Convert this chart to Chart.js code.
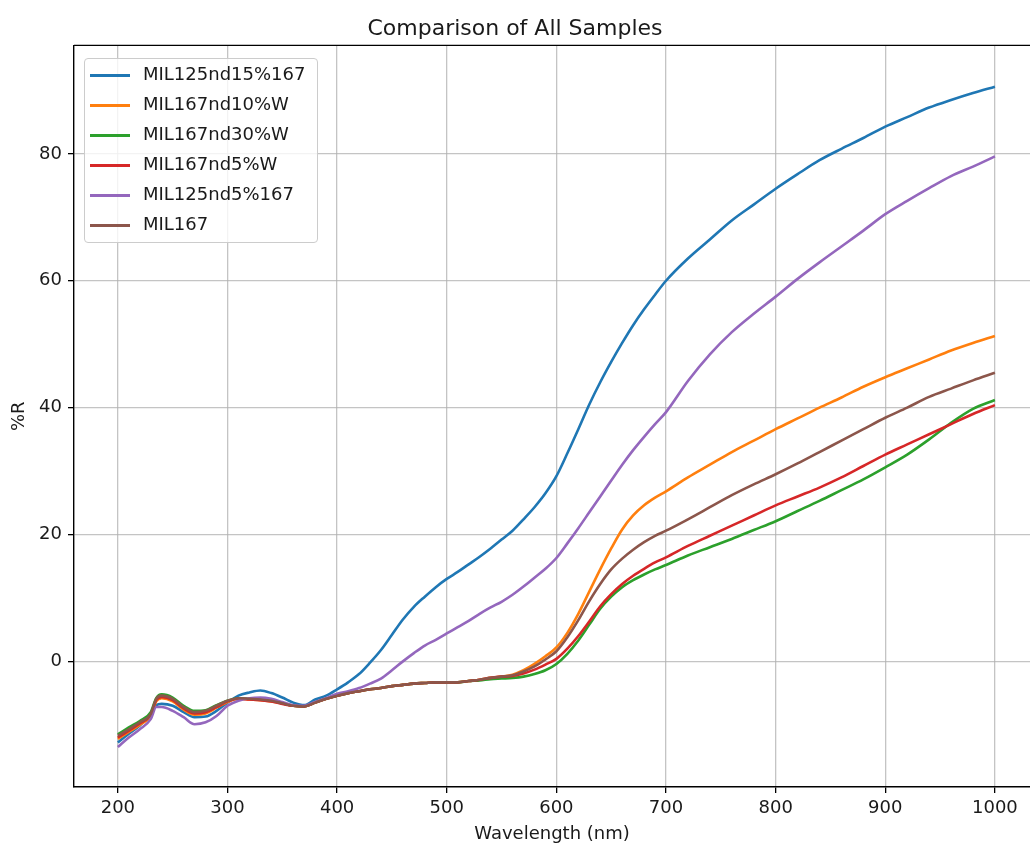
<!DOCTYPE html>
<html lang="en">
<head>
    <meta charset="UTF-8">
    <title>Comparison of All Samples</title>
    <style>
        body { margin: 0; background: #fff; font-family: "DejaVu Sans", sans-serif; }
        #wrap { position: relative; width: 1030px; height: 848px; }
        #legend {
            position: absolute; left: 84px; top: 58px;
            border: 1px solid #cccccc; border-radius: 4px;
            background: rgba(255,255,255,0.8);
            padding: 0 12px 3px 0; font-size: 18px; color: #1a1a1a;
        }
        #legend .row { height: 30px; line-height: 30px; white-space: nowrap; }
        #legend .swatch {
            display: inline-block; width: 40px; height: 3px;
            vertical-align: middle; margin: 0 13px 0 5px;
        }
    </style>
</head>
<body>
<div id="wrap">
    <canvas id="chart" width="1030" height="848"></canvas>
    <div id="legend"></div>
</div>

<script src="https://cdn.jsdelivr.net/npm/chart.js"></script>
<script>
    // wavelength grid (nm) shared by all samples
    const wavelength = [200, 210, 220, 230, 235, 240, 250, 260, 270, 280, 290, 300, 310, 320, 330, 340, 350, 360, 370, 380, 390, 400,
        410, 420, 430, 440, 450, 460, 470, 480, 490, 500, 510, 520, 530, 540, 550, 560, 570, 580, 590,
        600, 610, 620, 630, 640, 650, 660, 670, 680, 690, 700,
        720, 740, 760, 780, 800, 820, 840, 860, 880, 900, 920, 940, 960, 980, 1000];

    const sampleNames = ['MIL125nd15%167', 'MIL167nd10%W', 'MIL167nd30%W', 'MIL167nd5%W', 'MIL125nd5%167', 'MIL167'];
    const sampleColors = ['#1f77b4', '#ff7f0e', '#2ca02c', '#d62728', '#9467bd', '#8c564b'];

    const mil125nd15 = [-12.8, -11.4, -10.1, -8.3, -6.9, -6.7, -7.0, -8.0, -8.8, -8.7, -7.8, -6.5, -5.4, -4.9, -4.6, -5.0, -5.7, -6.5, -6.9, -6.0, -5.4, -4.4,
        -3.3, -2.0, -0.2, 1.8, 4.2, 6.6, 8.6, 10.2, 11.7, 13.0, 14.1, 15.3, 16.5, 17.8, 19.2, 20.6, 22.4, 24.3, 26.5,
        29.2, 32.8, 36.6, 40.5, 44.0, 47.2, 50.2, 53.0, 55.5, 57.8, 60.0,
        63.5, 66.5, 69.5, 72.0, 74.5, 76.8, 79.0, 80.8, 82.5, 84.3, 85.8, 87.3, 88.5, 89.6, 90.6];

    const mil167nd10W = [-12.2, -11.1, -10.0, -8.6, -6.3, -5.8, -6.3, -7.6, -8.4, -8.2, -7.3, -6.4, -5.9, -6.0, -6.1, -6.3, -6.6, -7.0, -7.1, -6.5, -5.9, -5.4,
        -5.0, -4.7, -4.4, -4.2, -3.9, -3.7, -3.5, -3.4, -3.3, -3.3, -3.3, -3.1, -2.9, -2.6, -2.4, -2.1, -1.4, -0.4, 0.8,
        2.2, 4.5, 7.5, 11.0, 14.5, 17.8, 20.8, 23.0, 24.6, 25.8, 26.8,
        29.0, 31.0, 33.0, 34.8, 36.6, 38.3, 40.0, 41.6, 43.3, 44.8, 46.2, 47.6, 49.0, 50.2, 51.3];

    const mil167nd30W = [-11.5, -10.4, -9.4, -8.0, -5.8, -5.2, -5.7, -7.0, -7.8, -7.7, -6.9, -6.2, -5.8, -5.9, -6.0, -6.2, -6.6, -7.0, -7.1, -6.5, -5.9, -5.4,
        -5.0, -4.7, -4.4, -4.2, -3.9, -3.7, -3.5, -3.4, -3.3, -3.3, -3.3, -3.1, -3.0, -2.8, -2.7, -2.6, -2.4, -2.0, -1.4,
        -0.4, 1.2, 3.3, 5.8, 8.3, 10.2, 11.7, 12.8, 13.7, 14.5, 15.2,
        16.7, 18.0, 19.3, 20.7, 22.1, 23.7, 25.3, 27.0, 28.7, 30.6, 32.6, 35.0, 37.6, 39.8, 41.2];

    const mil167nd5W = [-12.0, -10.9, -9.8, -8.4, -6.1, -5.6, -6.1, -7.4, -8.2, -8.0, -7.2, -6.3, -5.9, -6.0, -6.1, -6.3, -6.7, -7.0, -7.1, -6.5, -5.9, -5.4,
        -5.0, -4.7, -4.4, -4.2, -3.9, -3.7, -3.5, -3.4, -3.3, -3.3, -3.3, -3.1, -2.9, -2.6, -2.4, -2.3, -1.9, -1.3, -0.5,
        0.4, 2.0, 4.0, 6.3, 8.7, 10.6, 12.2, 13.5, 14.6, 15.6, 16.4,
        18.2, 19.8, 21.4, 23.0, 24.6, 26.0, 27.4, 29.0, 30.8, 32.6, 34.2, 35.8, 37.4, 39.0, 40.4];

    const mil125nd5 = [-13.5, -12.0, -10.7, -9.1, -7.2, -7.2, -7.8, -8.8, -9.9, -9.6, -8.6, -7.0, -6.2, -5.8, -5.7, -5.9, -6.4, -6.9, -7.0, -6.4, -5.8, -5.1,
        -4.7, -4.2, -3.5, -2.7, -1.4, 0.0, 1.3, 2.5, 3.4, 4.4, 5.4, 6.4, 7.5, 8.5, 9.4, 10.5, 11.8, 13.2, 14.6,
        16.3, 18.6, 21.0, 23.5, 26.0, 28.5, 31.0, 33.3, 35.4, 37.4, 39.3,
        44.2, 48.4, 51.9, 54.8, 57.5, 60.3, 62.9, 65.4, 67.9, 70.5, 72.6, 74.6, 76.5, 78.0, 79.6];

    const mil167 = [-11.7, -10.7, -9.6, -8.3, -5.9, -5.4, -5.9, -7.2, -8.0, -7.8, -7.0, -6.2, -5.8, -5.9, -6.0, -6.2, -6.6, -7.0, -7.1, -6.5, -5.9, -5.4,
        -5.0, -4.7, -4.4, -4.2, -3.9, -3.7, -3.5, -3.4, -3.3, -3.3, -3.3, -3.1, -2.9, -2.6, -2.4, -2.2, -1.6, -0.8, 0.3,
        1.6, 3.8, 6.5, 9.5, 12.2, 14.5, 16.2, 17.6, 18.8, 19.8, 20.6,
        22.4, 24.3, 26.2, 27.9, 29.5, 31.2, 33.0, 34.8, 36.6, 38.4, 40.0, 41.7, 43.0, 44.3, 45.5];

    const xTicks = [200, 300, 400, 500, 600, 700, 800, 900, 1000];
    const yTicks = [0, 20, 40, 60, 80];

    const allSeries = [mil125nd15, mil167nd10W, mil167nd30W, mil167nd5W, mil125nd5, mil167];

    // legend box (matplotlib style, upper left inside the axes)
    const legendEl = document.getElementById('legend');
    sampleNames.forEach((name, i) => {
        legendEl.innerHTML += `<div class="row"><span class="swatch" style="background:${sampleColors[i]}"></span>${name}</div>`;
    });

    // top spine
    const topSpine = {
        id: 'topSpine',
        afterDraw(chart) {
            const {ctx, chartArea} = chart;
            ctx.save();
            ctx.strokeStyle = '#000';
            ctx.lineWidth = 1.4;
            ctx.beginPath();
            ctx.moveTo(chartArea.left, chartArea.top);
            ctx.lineTo(chartArea.right, chartArea.top);
            ctx.stroke();
            ctx.restore();
        }
    };

    const font = { family: '"DejaVu Sans", sans-serif', size: 18 };

    new Chart(document.getElementById('chart').getContext('2d'), {
        type: 'line',
        data: {
            datasets: allSeries.map((vals, i) => ({
                label: sampleNames[i],
                data: vals.map((v, j) => ({ x: wavelength[j], y: v })),
                borderColor: sampleColors[i],
                borderWidth: 2.6,
                pointRadius: 0,
                cubicInterpolationMode: 'monotone',
                order: allSeries.length - i
            }))
        },
        options: {
            responsive: false,
            animation: false,
            devicePixelRatio: 1,
            layout: { padding: 0 },
            plugins: {
                legend: { display: false },
                tooltip: { enabled: false },
                title: {
                    display: true,
                    text: 'Comparison of All Samples',
                    color: '#1a1a1a',
                    font: { family: font.family, size: 22, weight: 'normal' },
                    padding: { top: 16, bottom: 3 }
                }
            },
            scales: {
                x: {
                    type: 'linear',
                    min: 160,
                    max: 1032,
                    afterBuildTicks: axis => { axis.ticks = xTicks.map(v => ({ value: v })); },
                    afterFit: axis => { axis.height = 61; },
                    ticks: { font: font, color: '#1a1a1a', padding: 5, maxRotation: 0, callback: v => String(v) },
                    grid: { color: 'rgba(176,176,176,0.75)', lineWidth: 1.3, tickLength: 6, tickColor: '#000' },
                    border: { display: true, color: '#000', width: 1.4 },
                    title: { display: true, text: 'Wavelength (nm)', font: font, color: '#1a1a1a', padding: { top: 0, bottom: 3 } }
                },
                y: {
                    type: 'linear',
                    min: -19.8,
                    max: 97.1,
                    afterBuildTicks: axis => { axis.ticks = yTicks.map(v => ({ value: v })); },
                    afterFit: axis => { axis.width = 74; },
                    ticks: { font: font, color: '#1a1a1a', padding: 6, callback: v => String(v) },
                    grid: { color: 'rgba(176,176,176,0.75)', lineWidth: 1.3, tickLength: 6, tickColor: '#000' },
                    border: { display: true, color: '#000', width: 1.4 },
                    title: { display: true, text: '%R', font: font, color: '#1a1a1a', padding: { top: 9, bottom: 0 } }
                }
            }
        },
        plugins: [topSpine]
    });
</script>
</body>
</html>
